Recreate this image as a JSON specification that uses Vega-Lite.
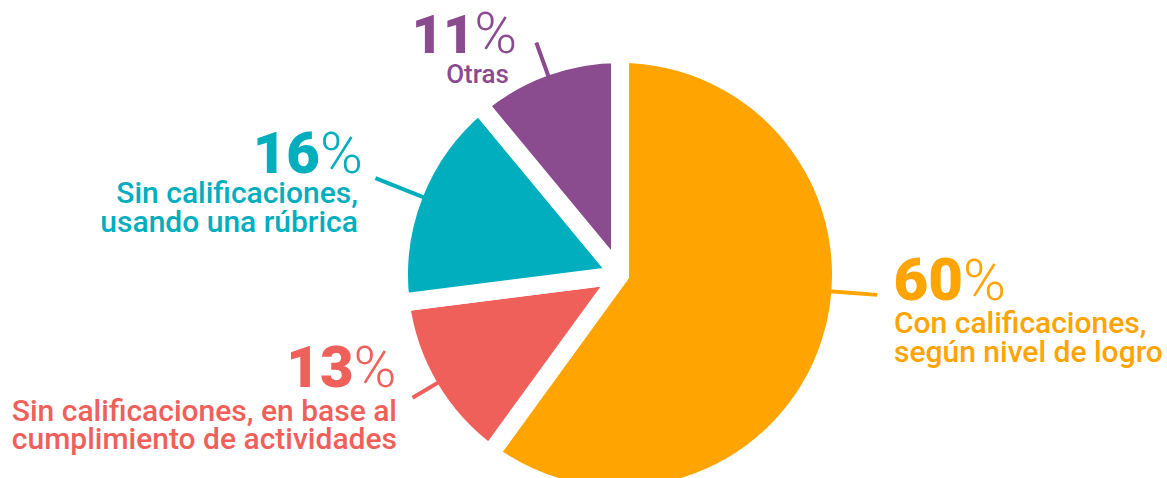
{
  "$schema": "https://vega.github.io/schema/vega-lite/v6.json",
  "width": 1094,
  "height": 406,
  "autosize": {"type": "none"},
  "padding": {"left": 73, "top": 72, "right": 0, "bottom": 0},
  "background": "white",
  "view": {"stroke": null},
  "data": {
    "values": [
      {"orden": 1, "categoria": "Con calificaciones,\nsegún nivel de logro", "pct": 60},
      {"orden": 2, "categoria": "Sin calificaciones, en base al\ncumplimiento de actividades", "pct": 13},
      {"orden": 3, "categoria": "Sin calificaciones,\nusando una rúbrica", "pct": 16},
      {"orden": 4, "categoria": "Otras", "pct": 11}
    ]
  },
  "encoding": {
    "theta": {"field": "pct", "type": "quantitative", "stack": true},
    "color": {
      "field": "categoria",
      "type": "nominal",
      "scale": {
        "domain": [
          "Con calificaciones,\nsegún nivel de logro",
          "Sin calificaciones, en base al\ncumplimiento de actividades",
          "Sin calificaciones,\nusando una rúbrica",
          "Otras"
        ],
        "range": ["#FFA400", "#F0605A", "#00AEBD", "#8A4B8F"]
      },
      "legend": null
    },
    "order": {"field": "orden", "type": "quantitative"}
  },
  "layer": [
    {"mark": {"type": "arc", "outerRadius": 221, "stroke": "white", "strokeWidth": 18, "strokeJoin": "round"}},
    {
      "mark": {"type": "arc", "filled": false, "strokeWidth": 4, "innerRadius": 207, "outerRadius": 258, "thetaOffset": -2.122, "theta2Offset": -2.122},
      "encoding": {
        "theta": {"field": "pct", "type": "quantitative", "stack": null},
        "theta2": {"field": "pct"},
        "strokeOpacity": {"condition": {"test": "datum.orden === 1", "value": 1}, "value": 0}
      }
    },
    {
      "mark": {"type": "arc", "filled": false, "strokeWidth": 4, "innerRadius": 207, "outerRadius": 241, "padAngle": 3},
      "encoding": {"strokeOpacity": {"condition": {"test": "datum.orden === 2", "value": 1}, "value": 0}}
    },
    {
      "mark": {"type": "arc", "filled": false, "strokeWidth": 4, "innerRadius": 207, "outerRadius": 263, "padAngle": 3},
      "encoding": {"strokeOpacity": {"condition": {"test": "datum.orden === 3", "value": 1}, "value": 0}}
    },
    {
      "mark": {"type": "arc", "filled": false, "strokeWidth": 4, "innerRadius": 207, "outerRadius": 247, "padAngle": 3},
      "encoding": {"strokeOpacity": {"condition": {"test": "datum.orden === 4", "value": 1}, "value": 0}}
    },
    {
      "mark": {"type": "text", "radius": 250, "align": "right", "baseline": "alphabetic", "dx": 105.2, "dy": -52.3, "font": "Roboto", "fontWeight": 900, "fontSize": 60},
      "encoding": {"text": {"condition": {"test": "datum.orden === 1", "field": "pct", "type": "quantitative"}, "value": ""}}
    },
    {
      "mark": {"type": "text", "radius": 250, "align": "left", "baseline": "alphabetic", "dx": 105.2, "dy": -52.3, "font": "Roboto", "fontWeight": 300, "fontSize": 58},
      "encoding": {"text": {"condition": {"test": "datum.orden === 1", "value": "%"}, "value": ""}}
    },
    {
      "mark": {"type": "text", "radius": 250, "align": "left", "baseline": "alphabetic", "dx": 36.2, "dy": -19.3, "font": "Roboto", "fontWeight": 500, "fontSize": 30, "lineHeight": 29, "lineBreak": "\n"},
      "encoding": {"text": {"condition": {"test": "datum.orden === 1", "field": "categoria", "type": "nominal"}, "value": ""}}
    },
    {
      "mark": {"type": "text", "radius": 250, "align": "right", "baseline": "alphabetic", "dx": -51.3, "dy": -15.3, "font": "Roboto", "fontWeight": 900, "fontSize": 58},
      "encoding": {"text": {"condition": {"test": "datum.orden === 2", "field": "pct", "type": "quantitative"}, "value": ""}}
    },
    {
      "mark": {"type": "text", "radius": 250, "align": "left", "baseline": "alphabetic", "dx": -51.3, "dy": -15.3, "font": "Roboto", "fontWeight": 300, "fontSize": 58},
      "encoding": {"text": {"condition": {"test": "datum.orden === 2", "value": "%"}, "value": ""}}
    },
    {
      "mark": {"type": "text", "radius": 250, "align": "right", "baseline": "alphabetic", "dx": -7.8, "dy": 18.7, "font": "Roboto", "fontWeight": 500, "fontSize": 30, "lineHeight": 28, "lineBreak": "\n"},
      "encoding": {"text": {"condition": {"test": "datum.orden === 2", "field": "categoria", "type": "nominal"}, "value": ""}}
    },
    {
      "mark": {"type": "text", "radius": 250, "align": "right", "baseline": "alphabetic", "dx": -67.6, "dy": -10, "font": "Roboto", "fontWeight": 900, "fontSize": 58},
      "encoding": {"text": {"condition": {"test": "datum.orden === 3", "field": "pct", "type": "quantitative"}, "value": ""}}
    },
    {
      "mark": {"type": "text", "radius": 250, "align": "left", "baseline": "alphabetic", "dx": -67.6, "dy": -10, "font": "Roboto", "fontWeight": 300, "fontSize": 58},
      "encoding": {"text": {"condition": {"test": "datum.orden === 3", "value": "%"}, "value": ""}}
    },
    {
      "mark": {"type": "text", "radius": 250, "align": "right", "baseline": "alphabetic", "dx": -29.6, "dy": 20, "font": "Roboto", "fontWeight": 500, "fontSize": 30, "lineHeight": 29, "lineBreak": "\n"},
      "encoding": {"text": {"condition": {"test": "datum.orden === 3", "field": "categoria", "type": "nominal"}, "value": ""}}
    },
    {
      "mark": {"type": "text", "radius": 250, "align": "right", "baseline": "alphabetic", "dx": -61, "dy": 13.2, "font": "Roboto", "fontWeight": 900, "fontSize": 54},
      "encoding": {"text": {"condition": {"test": "datum.orden === 4", "field": "pct", "type": "quantitative"}, "value": ""}}
    },
    {
      "mark": {"type": "text", "radius": 250, "align": "left", "baseline": "alphabetic", "dx": -61, "dy": 13.2, "font": "Roboto", "fontWeight": 300, "fontSize": 58},
      "encoding": {"text": {"condition": {"test": "datum.orden === 4", "value": "%"}, "value": ""}}
    },
    {
      "mark": {"type": "text", "radius": 250, "align": "center", "baseline": "alphabetic", "dx": -57.8, "dy": 43.2, "font": "Roboto", "fontWeight": 500, "fontSize": 26, "lineBreak": "\n"},
      "encoding": {"text": {"condition": {"test": "datum.orden === 4", "field": "categoria", "type": "nominal"}, "value": ""}}
    }
  ]
}
